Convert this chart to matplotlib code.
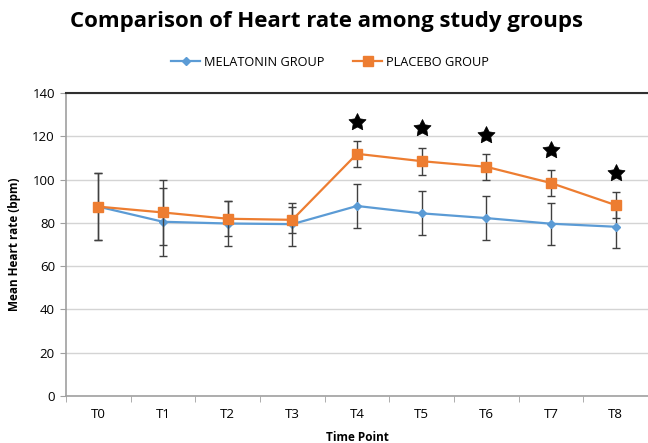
import matplotlib
matplotlib.use("Agg")
import matplotlib.pyplot as plt
from matplotlib.lines import Line2D
import numpy as np

time_points = ["T0", "T1", "T2", "T3", "T4", "T5", "T6", "T7", "T8"]
melatonin_mean = [87.5, 80.5, 79.7, 79.4, 87.8, 84.4, 82.2, 79.6, 78.2]
melatonin_sd = [15.6, 15.8, 10.4, 10.0, 10.3, 10.2, 10.1, 9.8, 10.0]
placebo_mean = [87.5, 84.8, 81.9, 81.4, 111.9, 108.5, 105.9, 98.4, 88.2]
placebo_sd = [15.6, 15.2, 8.0, 5.9, 6.0, 6.2, 6.0, 6.1, 6.0]
star_idx = [4, 5, 6, 7, 8]
star_y = [126.4, 123.6, 120.5, 113.6, 103.2]

plt.rcParams['font.family'] = ['Open Sans', 'DejaVu Sans']

fig = plt.figure(figsize=(6.48, 4.43), dpi=100)
ax = fig.add_axes([66/648, 1-396/443, 1-66/648, (396-93)/443])

x = np.arange(len(time_points))
blue = '#5B9BD5'
orange = '#ED7D31'

ax.errorbar(x, melatonin_mean, yerr=melatonin_sd, color=blue, marker='D', markersize=4,
            lw=1.6, ecolor='#404040', elinewidth=1.0, capsize=3, capthick=1.0, zorder=3)
ax.errorbar(x, placebo_mean, yerr=placebo_sd, color=orange, marker='s', markersize=6.5,
            lw=1.6, ecolor='#404040', elinewidth=1.0, capsize=3, capthick=1.0, zorder=4)

ax.plot([x[i] for i in star_idx], star_y, linestyle='none', marker=(5, 1, 0),
        markersize=13, markeredgewidth=0.5, color='black', zorder=5)

ax.set_xlim(-0.5, len(time_points) - 0.5)
ax.set_ylim(0, 140)
ax.set_yticks(np.arange(0, 141, 20))
ax.set_xticks(x)
ax.set_xticklabels(time_points, fontsize=9.5)
ax.set_xticks(np.arange(-0.5, len(time_points), 1), minor=True)
ax.tick_params(axis='x', which='major', length=0, pad=9)
ax.tick_params(axis='x', which='minor', length=4, color='#a0a0a0', direction='out')
ax.tick_params(axis='y', length=4, color='#a0a0a0', direction='out', labelsize=9.5, pad=4)

ax.grid(axis='y', color='#d4d4d4', lw=1.0, zorder=0)
ax.set_axisbelow(True)
for s in ['left', 'bottom']:
    ax.spines[s].set_color('#a0a0a0')
    ax.spines[s].set_linewidth(1.2)
ax.spines['top'].set_color('#303030')
ax.spines['top'].set_linewidth(1.5)
ax.spines['right'].set_visible(False)

ax.set_ylabel('Mean Heart rate (bpm)', fontsize=8.5, fontweight='bold', labelpad=8)
ax.set_xlabel('Time Point', fontsize=8.5, fontweight='bold', labelpad=7)

fig.text(70/648, 1-22/443, 'Comparison of Heart rate among study groups', fontsize=16,
         fontweight='bold', ha='left', va='center')

handles = [Line2D([], [], color=blue, marker='D', markersize=4, lw=1.6),
           Line2D([], [], color=orange, marker='s', markersize=6.5, lw=1.6)]
fig.legend(handles, ['MELATONIN GROUP', 'PLACEBO GROUP'], loc='center',
           bbox_to_anchor=(330/648, 1-62/443), ncol=2, frameon=False,
           fontsize=9.2, handlelength=2.3, columnspacing=2.2, handletextpad=0.3)

fig.savefig('out.png', dpi=100)
